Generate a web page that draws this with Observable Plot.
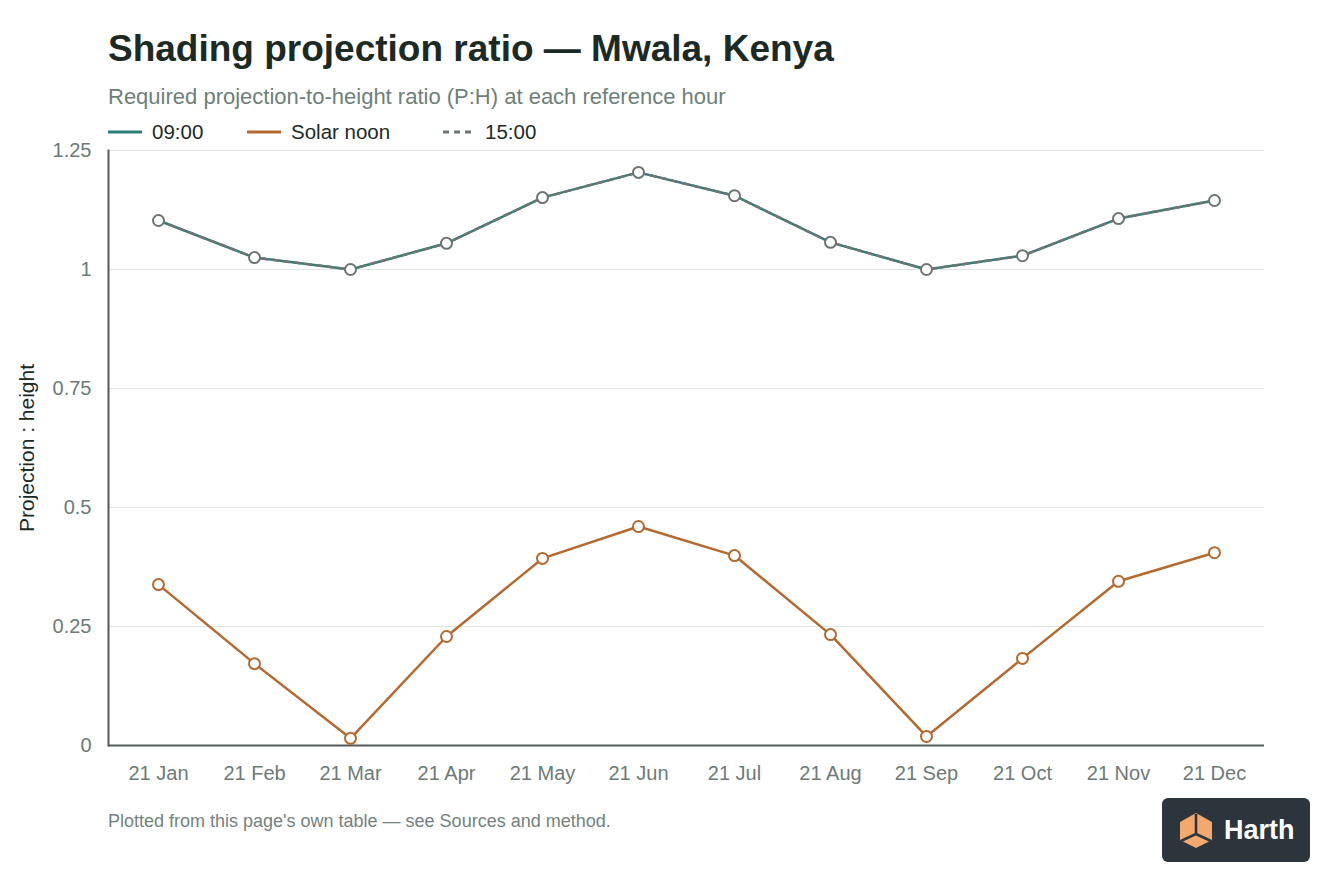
<!DOCTYPE html>
<html>
<head>
<meta charset="utf-8">
<script src="https://cdn.jsdelivr.net/npm/d3@7"></script>
<script src="https://cdn.jsdelivr.net/npm/@observablehq/plot@0.6"></script>
<style>
  html, body { margin: 0; padding: 0; background: #fff; }
  body { width: 1344px; height: 896px; position: relative; font-family: "Liberation Sans", Arial, sans-serif; overflow: hidden; }
  #title { position: absolute; left: 108px; top: 28px; font-size: 37px; font-weight: 700; color: #1c2a25; white-space: nowrap; }
  #subtitle { position: absolute; left: 108px; top: 84px; font-size: 22px; color: #6e7f79; white-space: nowrap; }
  .item { position: absolute; top: 119px; font-size: 20.5px; color: #1c2a25; display: flex; align-items: center; white-space: nowrap; height: 26px; }
  .item svg { margin-right: 10px; }
  #chart { position: absolute; left: 0; top: 140px; }
  #caption { position: absolute; left: 108px; top: 811px; font-size: 18px; color: #74827d; white-space: nowrap; }
  #logo { position: absolute; left: 1162px; top: 798px; width: 148px; height: 64px; background: #2b353b; border-radius: 6px; display: flex; align-items: center; }
  #logo span { color: #fff; font-weight: 700; font-size: 27px; margin-left: 8px; }
</style>
</head>
<body>
<div id="title">Shading projection ratio — Mwala, Kenya</div>
<div id="subtitle">Required projection-to-height ratio (P:H) at each reference hour</div>
<div id="legend"></div>
<div id="chart"></div>
<div id="caption">Plotted from this page's own table — see Sources and method.</div>
<div id="logo">
  <svg width="40" height="40" viewBox="0 0 40 40" style="margin-left:14px">
    <polygon points="20,3 36,12 36,30 20,38 4,30 4,12" fill="#f3a86e"/>
    <polyline points="20,4 20,24 5,31" fill="none" stroke="#2b353b" stroke-width="2.5"/>
    <polyline points="20,24 35,31" fill="none" stroke="#2b353b" stroke-width="2.5"/>
  </svg>
  <span>Harth</span>
</div>
<script>
const months = ["21 Jan","21 Feb","21 Mar","21 Apr","21 May","21 Jun","21 Jul","21 Aug","21 Sep","21 Oct","21 Nov","21 Dec"];
const morning = [1.103,1.025,1.000,1.055,1.151,1.204,1.155,1.057,1.000,1.029,1.107,1.145];
const noon    = [0.338,0.172,0.015,0.229,0.393,0.460,0.399,0.233,0.019,0.183,0.345,0.405];
const afternoon = [1.103,1.025,1.000,1.055,1.151,1.204,1.155,1.057,1.000,1.029,1.107,1.145];
const yTicks = [0,0.25,0.5,0.75,1,1.25];
const seriesNames = ["09:00","Solar noon","15:00"];
const seriesColors = ["#2b7d78","#b5692f","#6b7572"];
const legendLeft = [108, 247, 443];

const rows = (vals, s) => months.map((m, i) => ({month: m, value: vals[i], series: s}));
const amData = rows(morning, "09:00");
const noonData = rows(noon, "Solar noon");
const pmData = rows(afternoon, "15:00");

// legend
const legend = document.getElementById("legend");
seriesNames.forEach((name, i) => {
  const d = document.createElement("div");
  d.className = "item";
  d.style.left = legendLeft[i] + "px";
  const dashed = i === 2;
  const w = dashed ? 32 : 34;
  const dash = dashed ? 'stroke-dasharray="6,5"' : '';
  d.innerHTML = `<svg width="${w}" height="4" style="margin-right:${dashed ? 10 : 10}px"><line x1="0" y1="2" x2="${w}" y2="2" stroke="${seriesColors[i]}" stroke-width="3" ${dash}/></svg>${name}`;
  legend.appendChild(d);
});

const chart = Plot.plot({
  width: 1344,
  height: 650,
  marginLeft: 108,
  marginRight: 80,
  marginTop: 10,
  marginBottom: 45,
  style: {fontFamily: "'Liberation Sans', Arial, sans-serif", fontSize: "20px", color: "#6d7a76", background: "transparent"},
  x: {type: "point", domain: months, padding: 0.5, label: null, tickSize: 0, tickPadding: 20},
  y: {domain: [0, 1.25], ticks: yTicks, tickFormat: d => String(d), label: null, tickSize: 0, tickPadding: 17},
  marks: [
    Plot.gridY(yTicks, {stroke: "#dfe5e2", strokeOpacity: 1, strokeWidth: 1}),
    Plot.ruleY([0], {stroke: "#555b5a", strokeWidth: 2}),
    Plot.frame({anchor: "left", stroke: "#555b5a", strokeWidth: 2}),
    Plot.text(["Projection : height"], {frameAnchor: "left", rotate: -90, dx: -81, textAnchor: "middle", fill: "#1c2a25", fontSize: 21}),
    Plot.line(amData, {x: "month", y: "value", stroke: seriesColors[0], strokeWidth: 2.5}),
    Plot.line(pmData, {x: "month", y: "value", stroke: seriesColors[2], strokeWidth: 2.5, strokeDasharray: "6,5"}),
    Plot.line(noonData, {x: "month", y: "value", stroke: seriesColors[1], strokeWidth: 2.5}),
    Plot.dot(pmData, {x: "month", y: "value", r: 5.5, fill: "#fff", stroke: seriesColors[2], strokeWidth: 2}),
    Plot.dot(noonData, {x: "month", y: "value", r: 5.5, fill: "#fff", stroke: seriesColors[1], strokeWidth: 2})
  ]
});
document.getElementById("chart").appendChild(chart);
</script>
</body>
</html>
